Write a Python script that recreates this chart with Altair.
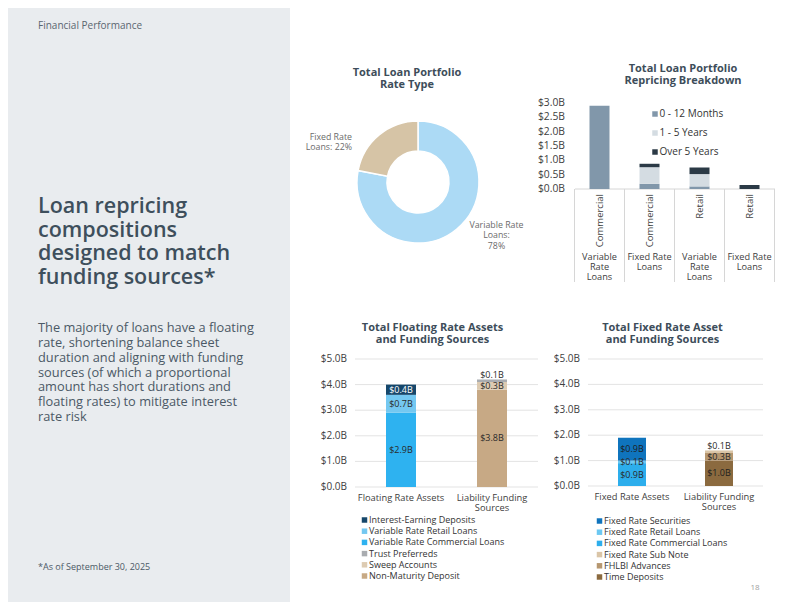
import altair as alt
import pandas as pd

FONT = "Open Sans"
W, H = 784, 594
M = 8  # page margin: reference pixel -> chart pixel


def X(v):
    return v - M


def Y(v):
    return v - M


# ---------------- data ----------------
donut_names = ["Variable Rate Loans", "Fixed Rate Loans"]
donut_pct = [78, 22]
donut_colors = ["#acdaf5", "#d6c4a6"]

rp_keys = ["VC", "FC", "VR", "FR"]
rp_inner = ["Commercial", "Commercial", "Retail", "Retail"]
rp_outer = ["Variable\nRate\nLoans", "Fixed Rate\nLoans", "Variable\nRate\nLoans", "Fixed Rate\nLoans"]
rp_buckets = ["0 - 12 Months", "1 - 5 Years", "Over 5 Years"]
rp_0_12 = [2.90, 0.18, 0.09, 0.00]
rp_1_5 = [0.00, 0.58, 0.43, 0.00]
rp_over5 = [0.00, 0.12, 0.23, 0.14]
rp_colors = ["#8197aa", "#d4dce2", "#2b3a46"]
rp_ticks = [0.0, 0.5, 1.0, 1.5, 2.0, 2.5, 3.0]

fl_cats = ["Floating Rate Assets", "Liability Funding Sources"]
fl_cat_labels = ["Floating Rate Assets", "Liability Funding\nSources"]
fl_series = ["Interest-Earning Deposits", "Variable Rate Retail Loans", "Variable Rate Commercial Loans",
             "Trust Preferreds", "Sweep Accounts", "Non-Maturity Deposit"]
fl_colors = ["#16476b", "#74c8f1", "#2eb2f0", "#a9acb0", "#ddcbb2", "#c7a985"]
fl_label_colors = ["#ffffff", "#2a2a2a", "#2a2a2a", "#2a2a2a", "#2a2a2a", "#2a2a2a"]
fl_assets = [0.4, 0.7, 2.9, 0.0, 0.0, 0.0]
fl_liab = [0.0, 0.0, 0.0, 0.1, 0.3, 3.8]

fx_cats = ["Fixed Rate Assets", "Liability Funding Sources"]
fx_cat_labels = ["Fixed Rate Assets", "Liability Funding\nSources"]
fx_series = ["Fixed Rate Securities", "Fixed Rate Retail Loans", "Fixed Rate Commercial Loans",
             "Fixed Rate Sub Note", "FHLBI Advances", "Time Deposits"]
fx_colors = ["#0f74bd", "#6cc8f2", "#2daeec", "#dac5a7", "#b69770", "#8b6a3f"]
fx_label_colors = ["#1e1e1e", "#2a2a2a", "#2a2a2a", "#2a2a2a", "#2a2a2a", "#1e1e1e"]
fx_assets = [0.9, 0.1, 0.9, 0.0, 0.0, 0.0]
fx_liab = [0.0, 0.0, 0.0, 0.1, 0.3, 1.0]
bottom_ticks = [0.0, 1.0, 2.0, 3.0, 4.0, 5.0]

TITLE_C = "#3d4d5a"
AXIS_C = "#404040"
ONE = pd.DataFrame({"k": [0]})


def txt(text, x, y, size, color=AXIS_C, weight="normal", align="left",
        baseline="alphabetic", line_height=None):
    kw = dict(fontSize=size, color=color, fontWeight=weight, align=align,
              baseline=baseline, font=FONT, lineBreak="\n")
    if line_height:
        kw["lineHeight"] = line_height
    return alt.Chart(ONE).mark_text(**kw).encode(
        x=alt.value(X(x)), y=alt.value(Y(y)), text=alt.value(text))


def money(v):
    return f"${v:.1f}B"


layers = []

# ---------------- left panel ----------------
layers.append(alt.Chart(ONE).mark_rect(color="#e9ecef").encode(
    x=alt.value(0), x2=alt.value(X(290)), y=alt.value(0), y2=alt.value(H)))
layers.append(txt("Financial Performance", 38, 29, 10, color="#5b6670"))
layers.append(txt("Loan repricing\ncompositions\ndesigned to match\nfunding sources*", 38, 213, 21.5,
                  color="#3e4f5c", weight=600, line_height=23.7))
layers.append(txt("The majority of loans have a floating\nrate, shortening balance sheet\n"
                  "duration and aligning with funding\nsources (of which a proportional\n"
                  "amount has short durations and\nfloating rates) to mitigate interest\nrate risk",
                  38, 332, 12.8, color="#4b5966", line_height=14.85))
layers.append(txt("*As of September 30, 2025", 38, 569.5, 9, color="#4b5966"))

# ---------------- donut ----------------
donut_df = pd.DataFrame({"name": donut_names, "pct": donut_pct, "color": donut_colors,
                         "idx": list(range(len(donut_names)))})
layers.append(alt.Chart(donut_df).mark_arc(outerRadius=61, innerRadius=31, stroke="white",
                                           strokeWidth=1.5).encode(
    theta=alt.Theta("pct:Q", stack=True),
    order=alt.Order("idx:Q"),
    color=alt.Color("color:N", scale=None),
    x=alt.value(X(418)), y=alt.value(Y(182))))
layers.append(txt("Total Loan Portfolio\nRate Type", 407, 75.5, 11, color=TITLE_C, weight="bold",
                  align="center", line_height=12.6))
layers.append(txt(f"Fixed Rate\nLoans: {donut_pct[1]}%", 352, 140, 8.8, color="#6b6b6b",
                  align="right", line_height=9.5))
layers.append(txt(f"Variable Rate\nLoans:\n{donut_pct[0]}%", 496.5, 228, 8.8, color="#6b6b6b",
                  align="center", line_height=10.3))

# ---------------- repricing breakdown ----------------
rp_x = alt.Scale(domain=rp_keys, range=[X(574.5), X(774.5)], paddingInner=0, paddingOuter=0)
rp_y = alt.Scale(domain=[0, 3], range=[Y(189), Y(103)], nice=False, zero=False)
rows = []
for i, k in enumerate(rp_keys):
    base = 0.0
    for b, vals in enumerate([rp_0_12, rp_1_5, rp_over5]):
        v = vals[i]
        if v > 0:
            rows.append(dict(key=k, bucket=rp_buckets[b], lo=base, hi=base + v, color=rp_colors[b]))
            base += v
rp_df = pd.DataFrame(rows)
cat_df = pd.DataFrame({"key": rp_keys, "inner": rp_inner, "outer": rp_outer})

layers.append(alt.Chart(pd.DataFrame({"v": [0.0]})).mark_rule(color="#d6d6d6").encode(
    x=alt.value(X(575)), x2=alt.value(X(775)), y=alt.Y("v:Q", scale=rp_y, axis=None)))
layers.append(alt.Chart(cat_df).mark_rule(color="#d6d6d6").encode(
    x=alt.X("key:N", scale=rp_x, axis=None, bandPosition=0),
    y=alt.value(Y(189)), y2=alt.value(Y(282))))
layers.append(alt.Chart(cat_df.tail(1)).mark_rule(color="#d6d6d6").encode(
    x=alt.X("key:N", scale=rp_x, axis=None, bandPosition=1),
    y=alt.value(Y(189)), y2=alt.value(Y(282))))
layers.append(alt.Chart(rp_df).mark_bar(width=20).encode(
    x=alt.X("key:N", scale=rp_x, axis=None),
    y=alt.Y("lo:Q", scale=rp_y, axis=None), y2="hi:Q",
    color=alt.Color("color:N", scale=None)))
rp_tick_df = pd.DataFrame({"v": rp_ticks, "lab": [money(v) for v in rp_ticks]})
layers.append(alt.Chart(rp_tick_df).mark_text(align="right", baseline="middle", fontSize=10.3,
                                               font=FONT, color=AXIS_C).encode(
    x=alt.value(X(565)), y=alt.Y("v:Q", scale=rp_y, axis=None), text="lab:N"))
layers.append(alt.Chart(cat_df).mark_text(angle=270, align="right", baseline="middle", fontSize=9.5,
                                          font=FONT, color=AXIS_C).encode(
    x=alt.X("key:N", scale=rp_x, axis=None), y=alt.value(Y(194)), text="inner:N"))
layers.append(alt.Chart(cat_df).mark_text(align="center", baseline="alphabetic", fontSize=9.2,
                                          font=FONT, color=AXIS_C, lineBreak="\n",
                                          lineHeight=10).encode(
    x=alt.X("key:N", scale=rp_x, axis=None), y=alt.value(Y(260)), text="outer:N"))
rp_leg = pd.DataFrame({"bucket": rp_buckets, "color": rp_colors})
rp_leg_y = alt.Scale(type="point", domain=rp_buckets, range=[Y(114), Y(152)], padding=0)
layers.append(alt.Chart(rp_leg).mark_square(size=30, opacity=1).encode(
    x=alt.value(X(655)), y=alt.Y("bucket:N", scale=rp_leg_y, axis=None),
    color=alt.Color("color:N", scale=None)))
layers.append(alt.Chart(rp_leg).mark_text(align="left", baseline="middle", fontSize=10, font=FONT,
                                          color="#333333").encode(
    x=alt.value(X(659.5)), y=alt.Y("bucket:N", scale=rp_leg_y, axis=None), text="bucket:N"))
layers.append(txt("Total Loan Portfolio\nRepricing Breakdown", 683, 72, 11, color=TITLE_C,
                  weight="bold", align="center", line_height=12))


# ---------------- bottom stacked charts ----------------
def stacked_panel(cats, cat_labels, series, colors, label_colors, values, x_rng, y_rng, grid_x,
                  lab_x, xlab_y, leg_x, leg_y, title, title_x, bar_w):
    xs = alt.Scale(domain=cats, range=[X(x_rng[0]), X(x_rng[1])], paddingInner=0, paddingOuter=0)
    ys = alt.Scale(domain=[0, 5], range=[Y(y_rng[0]), Y(y_rng[1])], nice=False, zero=False)
    rows = []
    for ci, cat in enumerate(cats):
        base = 0.0
        segs = []
        for si in reversed(range(len(series))):
            v = values[ci][si]
            if v <= 0:
                continue
            segs.append(dict(cat=cat, series=series[si], color=colors[si], tcolor=label_colors[si],
                             lo=base, hi=base + v, mid=base + v / 2, label=money(v), pos="in"))
            base += v
        if segs and segs[-1]["hi"] - segs[-1]["lo"] <= 0.1 + 1e-9 and len(segs) > 1:
            segs[-1]["pos"] = "top"
        rows += segs
    df = pd.DataFrame(rows)
    tick_df = pd.DataFrame({"v": bottom_ticks, "lab": [money(v) for v in bottom_ticks]})
    out = []
    out.append(alt.Chart(tick_df).mark_rule(color="#e3e3e3").encode(
        x=alt.value(X(grid_x[0])), x2=alt.value(X(grid_x[1])),
        y=alt.Y("v:Q", scale=ys, axis=None)))
    out.append(alt.Chart(df).mark_bar(width=bar_w).encode(
        x=alt.X("cat:N", scale=xs, axis=None),
        y=alt.Y("lo:Q", scale=ys, axis=None), y2="hi:Q",
        color=alt.Color("color:N", scale=None)))
    out.append(alt.Chart(df).transform_filter("datum.pos == 'in'").mark_text(
        align="center", baseline="middle", fontSize=9, font=FONT).encode(
        x=alt.X("cat:N", scale=xs, axis=None), y=alt.Y("mid:Q", scale=ys, axis=None),
        text="label:N", color=alt.Color("tcolor:N", scale=None)))
    out.append(alt.Chart(df).transform_filter("datum.pos == 'top'").mark_text(
        align="center", baseline="middle", fontSize=9, font=FONT, dy=-4).encode(
        x=alt.X("cat:N", scale=xs, axis=None), y=alt.Y("hi:Q", scale=ys, axis=None),
        text="label:N", color=alt.Color("tcolor:N", scale=None)))
    out.append(alt.Chart(tick_df).mark_text(align="right", baseline="middle", fontSize=10,
                                            font=FONT, color=AXIS_C).encode(
        x=alt.value(X(lab_x)), y=alt.Y("v:Q", scale=ys, axis=None), text="lab:N"))
    cdf = pd.DataFrame({"cat": cats, "lab": cat_labels})
    out.append(alt.Chart(cdf).mark_text(align="center", baseline="alphabetic", fontSize=9.3,
                                        font=FONT, color=AXIS_C, lineBreak="\n",
                                        lineHeight=10).encode(
        x=alt.X("cat:N", scale=xs, axis=None), y=alt.value(Y(xlab_y)), text="lab:N"))
    ldf = pd.DataFrame({"series": series, "color": colors})
    ly = alt.Scale(type="point", domain=series, range=[Y(leg_y[0]), Y(leg_y[1])], padding=0)
    out.append(alt.Chart(ldf).mark_square(size=30, opacity=1).encode(
        x=alt.value(X(leg_x)), y=alt.Y("series:N", scale=ly, axis=None),
        color=alt.Color("color:N", scale=None)))
    out.append(alt.Chart(ldf).mark_text(align="left", baseline="middle", fontSize=9, font=FONT,
                                        color="#333333").encode(
        x=alt.value(X(leg_x + 4.5)), y=alt.Y("series:N", scale=ly, axis=None), text="series:N"))
    out.append(txt(title, title_x, 330.5, 11, color=TITLE_C, weight="bold", align="center",
                   line_height=12.3))
    return out


layers += stacked_panel(fl_cats, fl_cat_labels, fl_series, fl_colors, fl_label_colors,
                        [fl_assets, fl_liab], (355.5, 537.5), (487, 359), (355, 538), 347, 501,
                        364.5, (520, 576), "Total Floating Rate Assets\nand Funding Sources", 432.5, 30)
layers += stacked_panel(fx_cats, fx_cat_labels, fx_series, fx_colors, fx_label_colors,
                        [fx_assets, fx_liab], (588.5, 762.5), (486, 359), (588, 763), 580, 500,
                        599.5, (521, 577), "Total Fixed Rate Asset\nand Funding Sources", 662.5, 28)

layers.append(txt("18", 755, 590, 8, color="#a0a0a0", align="center"))

chart = alt.layer(*layers).resolve_scale(
    x="independent", y="independent", theta="independent"
).properties(
    width=W, height=H, autosize=alt.AutoSizeParams(type="none"), padding=0, background="white"
).configure_view(stroke=None)

chart.save("out.html", embed_options={"renderer": "svg", "actions": False})
